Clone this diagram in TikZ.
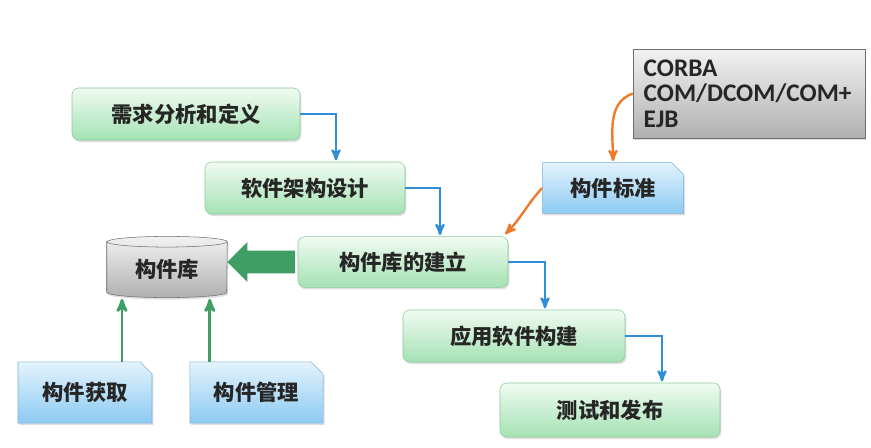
\documentclass[tikz,border=0pt]{standalone}
\usepackage{fontspec}
\setmainfont{Noto Sans CJK SC}
\newfontfamily\latinfont{Carlito}
\usepackage{tikz}
\usetikzlibrary{arrows,positioning,shapes.misc,shadows}
\definecolor{greentop}{HTML}{F0FBF2}
\definecolor{greenbot}{HTML}{A4E2B3}
\definecolor{greenline}{HTML}{8CC79A}
\definecolor{bluetop}{HTML}{E4F3FD}
\definecolor{bluebot}{HTML}{8CCAF2}
\definecolor{blueline}{HTML}{7DB3D8}
\definecolor{graytop}{HTML}{F2F2F2}
\definecolor{graybot}{HTML}{B0B0B0}
\definecolor{grayline}{HTML}{6E6E6E}
\definecolor{linkblue}{HTML}{2E8FD8}
\definecolor{linkorange}{HTML}{EE7B2C}
\definecolor{linkgreen}{HTML}{3E9E64}
\definecolor{textdark}{HTML}{262626}
\tikzstyle{flow}=[rectangle, rounded corners=5pt, draw=greenline, top color=greentop, bottom color=greenbot, minimum height=39pt, text=textdark, font=\bfseries\fontsize{16}{18}\selectfont, drop shadow={opacity=0.25,shadow xshift=1pt,shadow yshift=-1.5pt}]
\tikzstyle{tag}=[chamfered rectangle, chamfered rectangle corners=north east, chamfered rectangle xsep=4pt, chamfered rectangle ysep=5pt, draw=blueline, top color=bluetop, bottom color=bluebot, text=textdark, font=\bfseries\fontsize{16}{18}\selectfont, drop shadow={opacity=0.25,shadow xshift=1pt,shadow yshift=-1.5pt}]
\tikzstyle{note}=[rectangle, draw=grayline, top color=graytop, bottom color=graybot, text=textdark, align=left, inner sep=8pt, font=\latinfont\bfseries\fontsize{19}{19}\selectfont, drop shadow={opacity=0.25,shadow xshift=1pt,shadow yshift=-1.5pt}]
\tikzstyle{flowline}=[->,>=stealth',draw=linkblue,line width=1.8pt,shorten >=1pt]
\tikzstyle{stdline}=[->,>=stealth',draw=linkorange,line width=1.8pt,shorten >=1pt]
\tikzstyle{upline}=[->,>=stealth',draw=linkgreen,line width=2.2pt]

\begin{document}
\begin{tikzpicture}[x=0.75pt,y=-0.75pt]
    \useasboundingbox (0,0) rectangle (871,447);

    \node (req) [flow, minimum width=171pt] at (186,114) {需求分析和定义};
    \node (arch) [flow, minimum width=150pt] at (305,188) {软件架构设计};
    \node (build) [flow, minimum width=157.5pt, minimum height=38pt] at (403,262) {构件库的建立};
    \node (app) [flow, minimum width=166.5pt] at (514,336) {应用软件构建};
    \node (test) [flow, minimum width=165pt, minimum height=40.5pt] at (610,410) {测试和发布};

    \node (std) [tag, minimum width=106pt, minimum height=38pt] at (613,188) {构件标准};
    \node (corba) [note, minimum width=174pt, minimum height=65pt, text width=158pt] at (749,93.5) {CORBA\\COM/DCOM/COM+\\EJB};

    \node (get) [tag, minimum width=100.5pt, minimum height=46pt] at (85,392.5) {构件获取};
    \node (mng) [tag, minimum width=100pt, minimum height=46pt] at (256.5,392.5) {构件管理};

    % component library drawn as a cylinder round the node
    \node (lib) [minimum width=90pt, minimum height=37.5pt, inner sep=0pt] at (167,267) {};
    \draw[draw=grayline, top color=graytop, bottom color=graybot, drop shadow={opacity=0.25,shadow xshift=1pt,shadow yshift=-1.5pt}]
        (lib.north west) -- (lib.south west)
        arc[start angle=180, end angle=360, x radius=45pt, y radius=4pt]
        -- (lib.north east)
        arc[start angle=0, end angle=180, x radius=45pt, y radius=4pt] -- cycle;
    \draw[draw=grayline] (lib.north west) arc[start angle=180, end angle=360, x radius=45pt, y radius=4pt];
    \node at ([yshift=-2pt]lib.center) [text=textdark, font=\bfseries\fontsize{16}{18}\selectfont] {构件库};

    % main flow
    \draw[flowline] (req.east) -| ([xshift=23.25pt]arch.north);
    \draw[flowline] (arch.east) -| ([xshift=27.75pt]build.north);
    \draw[flowline] (build.east) -| ([xshift=23.25pt]app.north);
    \draw[flowline] (app.east) -| ([xshift=39pt]test.north);

    % standards
    \draw[stdline] (corba.west) to[out=200,in=90] (std.north);
    \draw[stdline] (std.west) to[out=228,in=45] ([xshift=-3pt,yshift=1pt]build.north east);

    % big arrow into the library
    \fill[linkgreen] (lib.east |- build.west) -- ++(15pt,15pt) -- ++(0pt,-6.4pt)
        -- ([xshift=-2pt,yshift=8.6pt]build.west) -- ([xshift=-2pt,yshift=-8.6pt]build.west)
        -- ([xshift=15pt,yshift=-8.6pt]lib.east |- build.west) -- ++(0pt,-6.4pt) -- cycle;

    % feeding the library
    \draw[upline] ([xshift=27.75pt]get.north) -- ([xshift=27.75pt,yshift=-5pt]get.north |- lib.south);
    \draw[upline] ([xshift=-35pt]mng.north) -- ([xshift=-35pt,yshift=-5pt]mng.north |- lib.south);
\end{tikzpicture}
\end{document}
